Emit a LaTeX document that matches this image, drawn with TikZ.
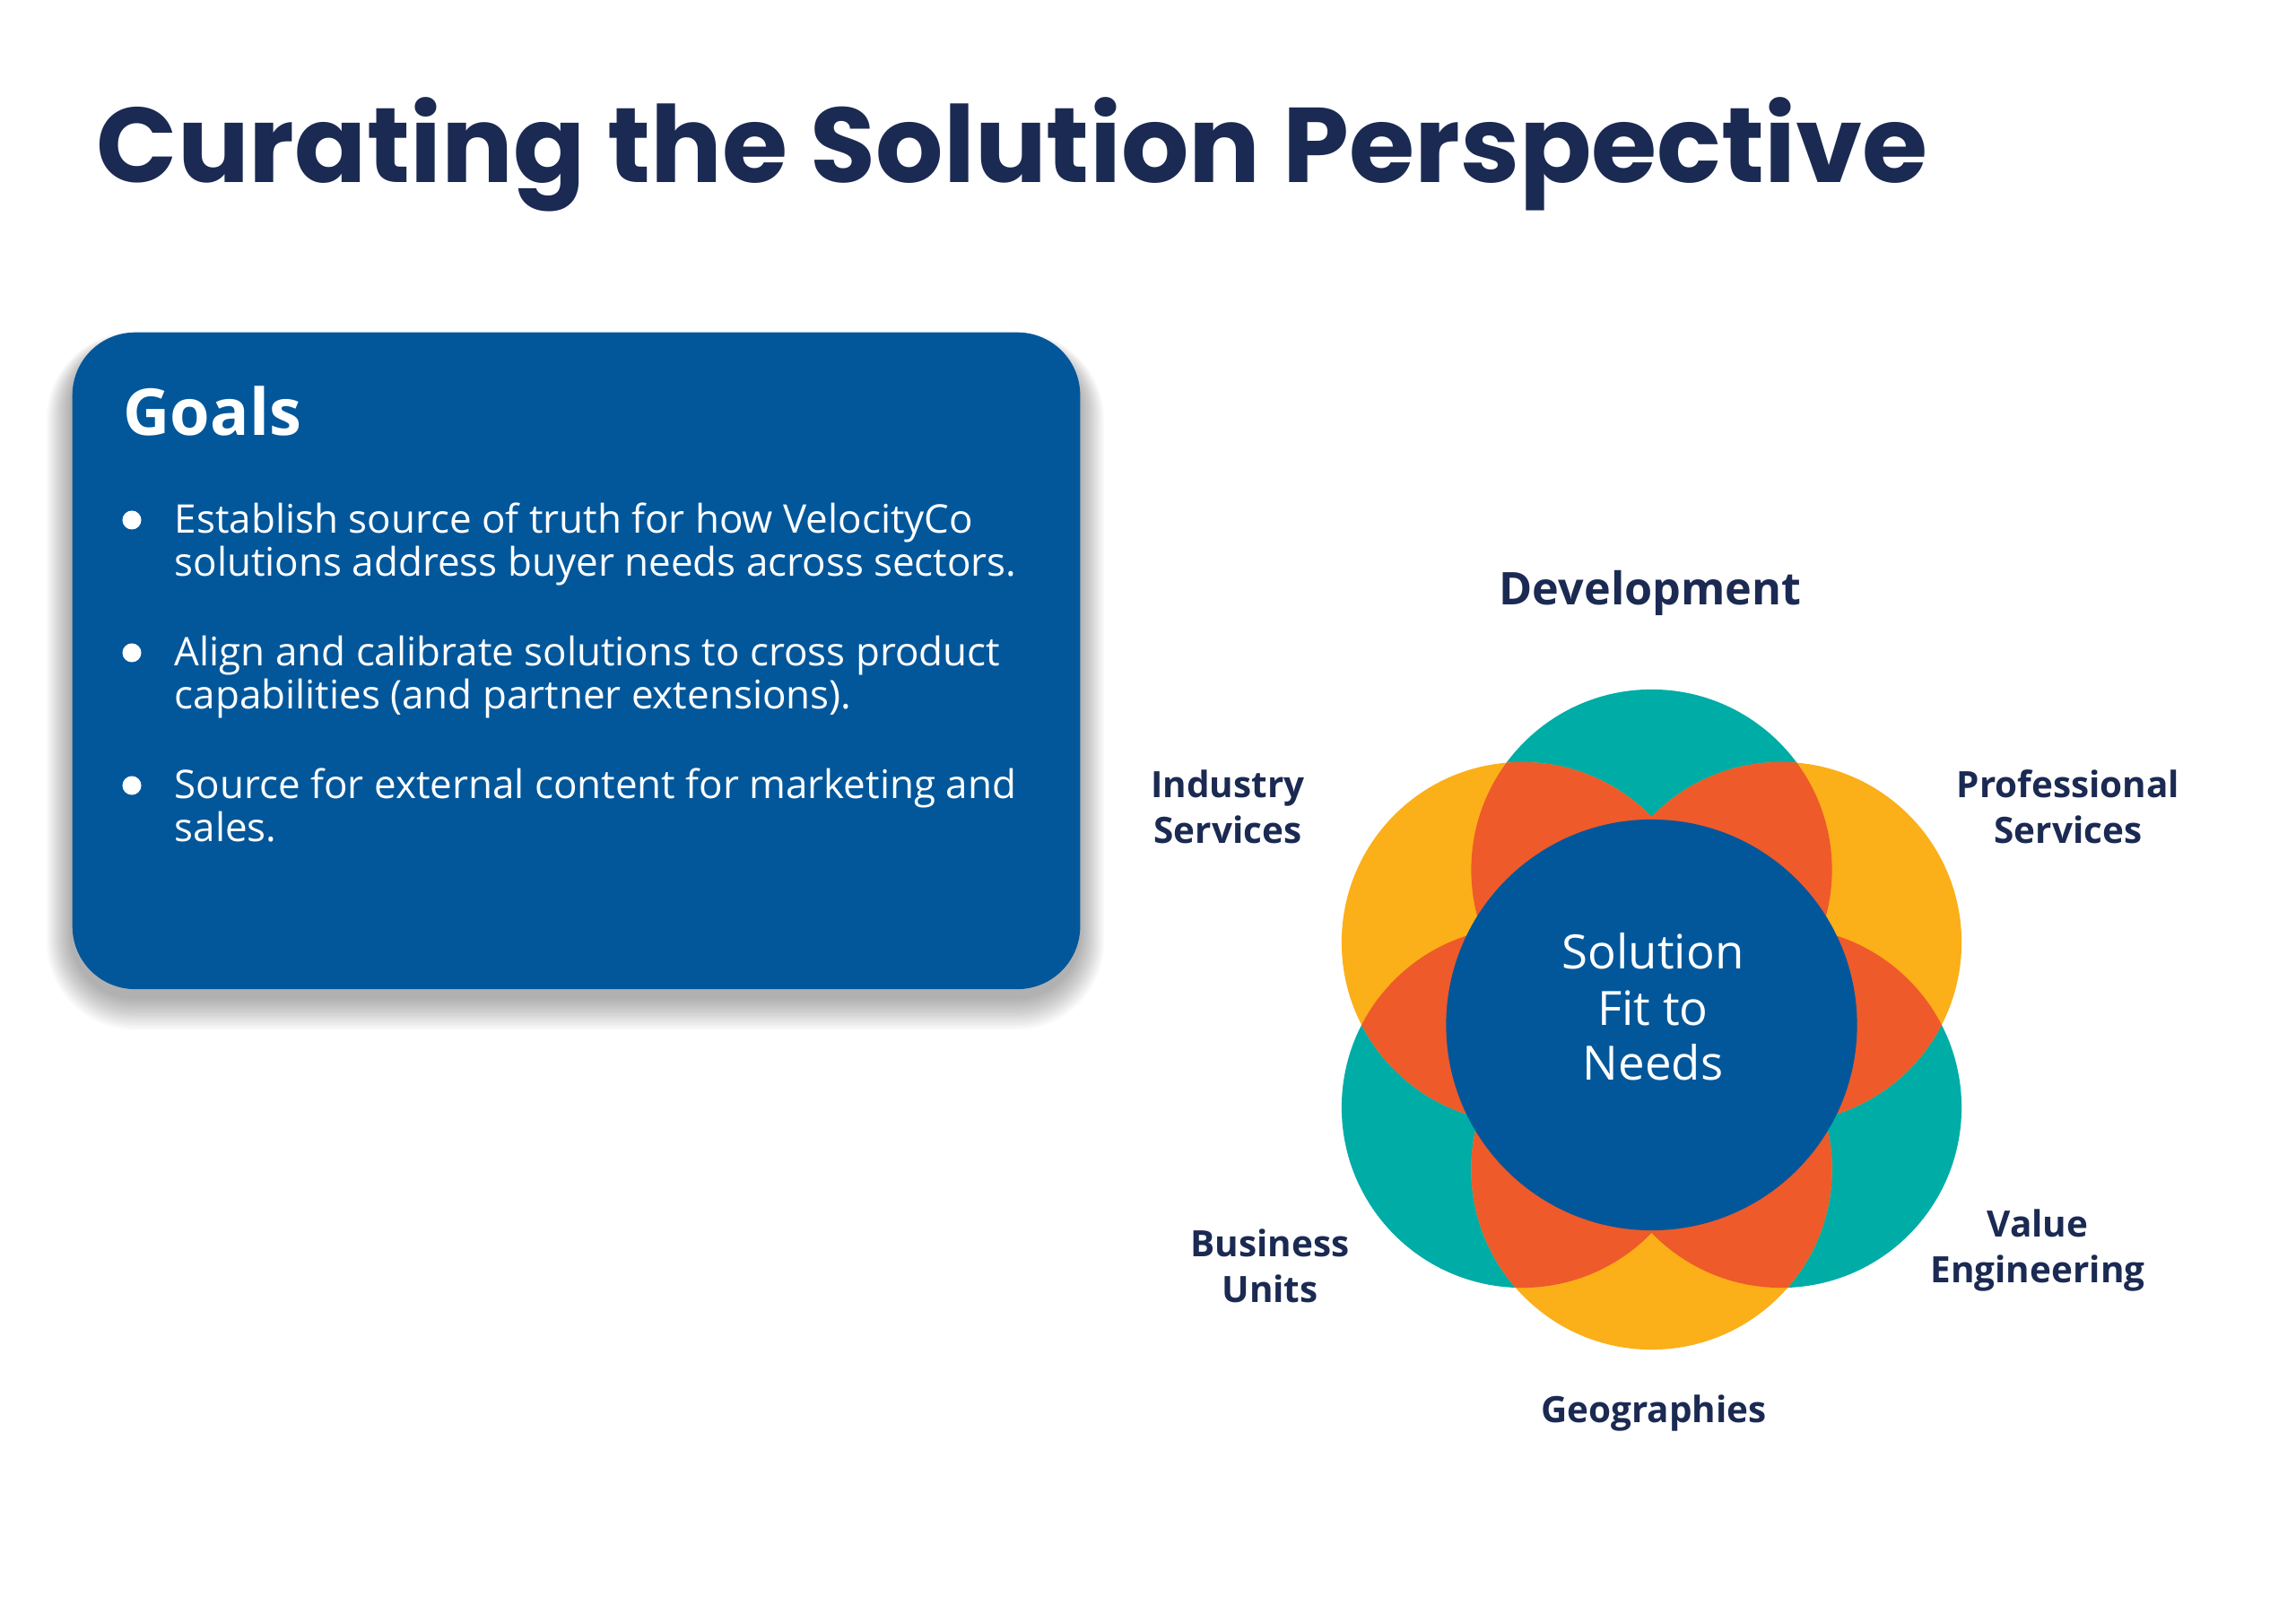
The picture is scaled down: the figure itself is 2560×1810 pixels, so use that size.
\documentclass[tikz,border=0pt]{standalone}
\usepackage{fontspec}
\setmainfont{Open Sans}
\newfontfamily\titlefont{Poppins}
\definecolor{navy}{HTML}{1B2A52}
\definecolor{boxblue}{HTML}{02579B}
\definecolor{tealc}{HTML}{00ACA6}
\definecolor{orangec}{HTML}{FBAF18}
\definecolor{redc}{HTML}{EE5A2A}
\tikzset{
  bodyline/.style={anchor=base west, inner sep=0, text=white, font=\fontsize{12.5}{15}\selectfont},
  bulletdot/.style={circle, fill=white, inner sep=0, minimum size=0.21cm},
  lbl/.style={anchor=base, inner sep=0, text=navy, font=\bfseries\fontsize{11.5}{14}\selectfont},
  biglbl/.style={anchor=base, inner sep=0, text=navy, font=\bfseries\fontsize{14.3}{17}\selectfont},
  coretext/.style={anchor=base, inner sep=0, text=white, font=\fontsize{15}{18}\selectfont},
}
\begin{document}
\begin{tikzpicture}[x=0.01cm,y=-0.01cm]
\useasboundingbox[fill=white] (0,0) rectangle (2560,1810);
% title
\node[anchor=base west, inner sep=0, text=navy, font=\titlefont\bfseries\fontsize{33.7}{40}\selectfont] (title) at (107,204) {Curating the Solution Perspective};
% shadow of goals box
\foreach \i in {1,...,14}{
  \fill[black, opacity=0.022, rounded corners=0.7cm+\i*0.02cm]
    (80-\i*2,384-\i*1) rectangle (1203+\i*2,1112+\i*2.6);
}
% goals box
\node[rectangle, rounded corners=0.7cm, fill=boxblue, minimum width=11.23cm, minimum height=7.32cm, anchor=north west, inner sep=0] (goalsbox) at (80,370) {};
\node[anchor=base west, inner sep=0, text=white, font=\bfseries\fontsize{20.5}{24}\selectfont] (goals) at (137,486) {Goals};
\node[bulletdot] (d1) at (147,580) {};
\node[bodyline] (b1a) at (194,595) {Establish source of truth for how VelocityCo};
\node[bodyline] (b1b) at (194,643) {solutions address buyer needs across sectors.};
\node[bulletdot] (d2) at (147,728) {};
\node[bodyline] (b2a) at (194,743) {Align and calibrate solutions to cross product};
\node[bodyline] (b2b) at (194,791) {capabilities (and partner extensions).};
\node[bulletdot] (d3) at (147,876) {};
\node[bodyline] (b3a) at (194,891) {Source for external content for marketing and};
\node[bodyline] (b3b) at (194,939) {sales.};
% petals
\coordinate (pT) at (1841.5,970);
\coordinate (pUR) at (1986,1051);
\coordinate (pLR) at (1986,1235);
\coordinate (pB) at (1841.5,1304);
\coordinate (pLL) at (1697,1235);
\coordinate (pUL) at (1697,1051);
\fill[tealc] (pT) circle[radius=2.01cm];
\fill[tealc] (pLR) circle[radius=2.01cm];
\fill[tealc] (pLL) circle[radius=2.01cm];
\fill[orangec] (pUR) circle[radius=2.01cm];
\fill[orangec] (pB) circle[radius=2.01cm];
\fill[orangec] (pUL) circle[radius=2.01cm];
\foreach \a/\b in {pT/pUR, pUR/pLR, pLR/pB, pB/pLL, pLL/pUL, pUL/pT}{
  \begin{scope}
    \clip (\a) circle[radius=2.01cm];
    \fill[redc] (\b) circle[radius=2.01cm];
  \end{scope}
}
\node[circle, fill=boxblue, minimum size=4.58cm, inner sep=0] (core) at (1841.5,1143) {};
\node[coretext] (c1) at (1843,1081) {Solution};
\node[coretext] (c2) at (1843,1143) {Fit to};
\node[coretext] (c3) at (1843,1205) {Needs};
% labels
\node[biglbl] (dev) at (1840,675) {Development};
\node[lbl] (ind1) at (1369,890) {Industry};
\node[lbl] (ind2) at (1369,941) {Services};
\node[lbl] (pro1) at (2306,890) {Professional};
\node[lbl] (pro2) at (2306,941) {Services};
\node[lbl] (bus1) at (1416,1401) {Business};
\node[lbl] (bus2) at (1416,1452) {Units};
\node[lbl] (val1) at (2272,1379) {Value};
\node[lbl] (val2) at (2272,1430) {Engineering};
\node[lbl] (geo) at (1844,1586) {Geographies};
\end{tikzpicture}
\end{document}
